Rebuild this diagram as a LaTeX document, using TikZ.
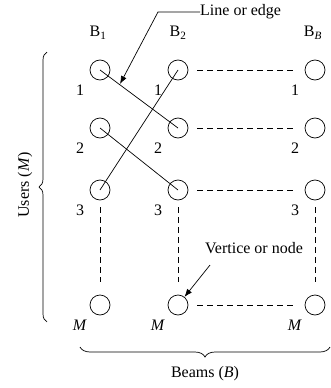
\documentclass[tikz,border=0pt]{standalone}
\usepackage{fontspec}
\setmainfont{Liberation Serif}
\usetikzlibrary{arrows.meta,decorations.pathreplacing}
\begin{document}
\begin{tikzpicture}[x=1pt,y=-1pt,
  vert/.style={circle,draw,minimum size=20pt,inner sep=0pt,line width=0.7pt},
  txt/.style={font=\fontsize{16}{19}\selectfont,inner sep=0pt},
  edge/.style={line width=0.7pt},
  dsh/.style={line width=0.7pt,dash pattern=on 6pt off 4pt},
  pointer/.style={line width=0.7pt,-{Latex[length=8pt,width=6pt]}},
  brc/.style={line width=0.7pt,decorate}]
\useasboundingbox (0,0) rectangle (331,388);
% vertices
\foreach \c/\x in {1/100,2/178,3/315}{
  \foreach \r/\y in {1/70,2/128,3/190,4/305}{
    \node[vert] (v\c\r) at (\x,\y) {};
  }
}
% row labels
\foreach \c in {1,2,3}{
  \node[txt] (l\c1) at ([shift={(-20,20)}]v\c1.center) {1};
  \node[txt] (l\c2) at ([shift={(-20,20)}]v\c2.center) {2};
  \node[txt] (l\c3) at ([shift={(-20,20)}]v\c3.center) {3};
  \node[txt] (l\c4) at ([shift={(-20,20)}]v\c4.center) {\textit{M}};
}
% column labels
\node[txt] (b1) at (98,33) {B\textsubscript{1}};
\node[txt] (b2) at (178,33) {B\textsubscript{2}};
\node[txt] (b3) at (313,33) {B\textsubscript{\textit{B}}};
% edges
\draw[edge] (v11.center) -- (v22.center);
\draw[edge] (v21.center) -- (v13.center);
\draw[edge] (v12.center) -- (v23.center);
% dashed horizontals
\foreach \r in {1,2,3,4}{
  \draw[dsh] ([xshift=9pt]v2\r.east) -- ([xshift=-8pt]v3\r.west);
}
% dashed verticals
\foreach \c in {1,2,3}{
  \draw[dsh] ([yshift=-7pt]v\c3.south) -- ([yshift=13pt]v\c4.north);
}
% annotations
\node[txt,anchor=west] (le) at (200,12) {Line or edge};
\coordinate (lebend) at (158,12);
\coordinate (letip) at (120,84);
\draw[pointer] (le.west) -- (lebend) -- (letip);
\node[txt] (vn) at (254,248) {Vertice or node};
\coordinate (vnstart) at (210,265);
\draw[pointer] (vnstart) -- (v24);
% braces
\coordinate (ub) at (47,322);
\coordinate (ut) at (47,52);
\draw[brc,decoration={brace,amplitude=8pt}] (ub) -- (ut);
\node[txt,rotate=90] (users) at (25,185) {Users (\textit{M})};
\coordinate (br) at (330,347);
\coordinate (bl) at (80,347);
\draw[brc,decoration={brace,amplitude=10pt}] (br) -- (bl);
\node[txt] (beams) at (205,374) {Beams (\textit{B})};
\end{tikzpicture}
\end{document}
